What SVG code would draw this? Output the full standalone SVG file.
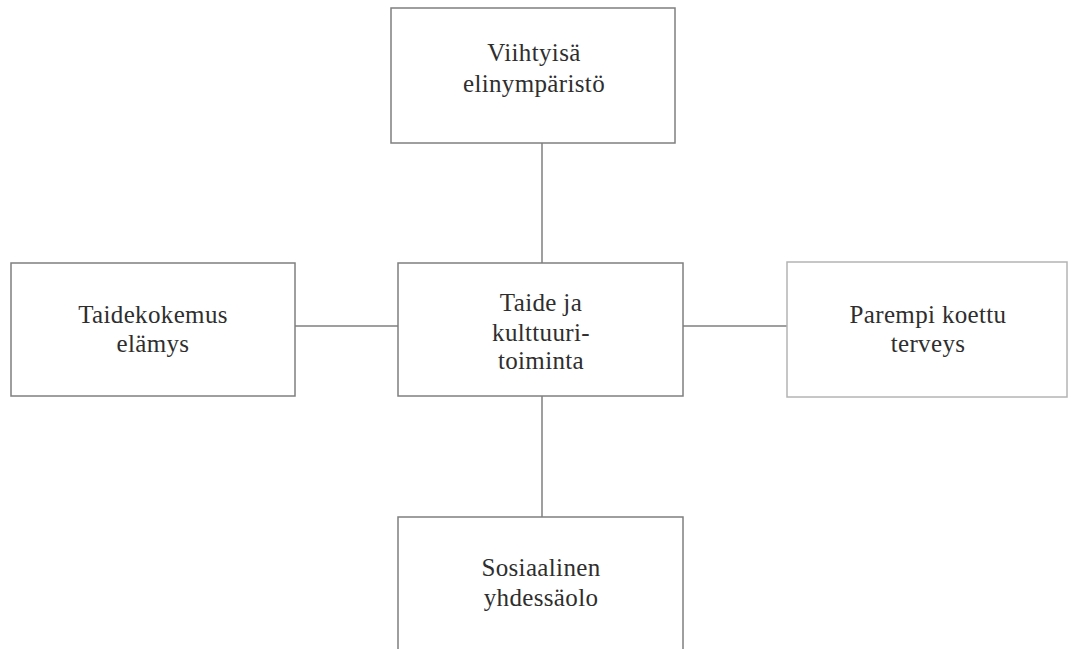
<svg xmlns="http://www.w3.org/2000/svg" width="1069" height="649" viewBox="0 0 1069 649">
<style>
.box{fill:#fff;stroke:#7f7f7f;stroke-width:1.5}
.light{stroke:#b4b4b4}
.lbl{font-family:"Liberation Serif","Times New Roman",serif;font-size:25px;letter-spacing:0.35px;fill:#2e2e2e;text-anchor:middle}
.conn{stroke:#7f7f7f;stroke-width:1.5;fill:none}
</style>
<rect width="1069" height="649" fill="#fff"/>
<g id="connectors">
<line class="conn" x1="542" y1="143" x2="542" y2="263"/>
<line class="conn" x1="295" y1="326" x2="398" y2="326"/>
<line class="conn" x1="683" y1="326" x2="787" y2="326"/>
<line class="conn" x1="542" y1="396" x2="542" y2="517"/>
</g>
<g id="n-top">
<rect class="box" x="391" y="8" width="284" height="135"/>
<text class="lbl" x="534" y="61">Viihtyisä</text>
<text class="lbl" x="534" y="92">elinympäristö</text>
</g>
<g id="n-left">
<rect class="box" x="11" y="263" width="284" height="133"/>
<text class="lbl" x="153" y="323">Taidekokemus</text>
<text class="lbl" x="153" y="352">elämys</text>
</g>
<g id="n-center">
<rect class="box" x="398" y="263" width="285" height="133"/>
<text class="lbl" x="541" y="311">Taide ja</text>
<text class="lbl" x="541" y="341">kulttuuri-</text>
<text class="lbl" x="541" y="369">toiminta</text>
</g>
<g id="n-right">
<rect class="box light" x="787" y="262" width="280" height="135"/>
<text class="lbl" x="928" y="323">Parempi koettu</text>
<text class="lbl" x="928" y="352">terveys</text>
</g>
<g id="n-bottom">
<rect class="box" x="398" y="517" width="285" height="150"/>
<text class="lbl" x="541" y="576">Sosiaalinen</text>
<text class="lbl" x="541" y="606">yhdessäolo</text>
</g>
</svg>
